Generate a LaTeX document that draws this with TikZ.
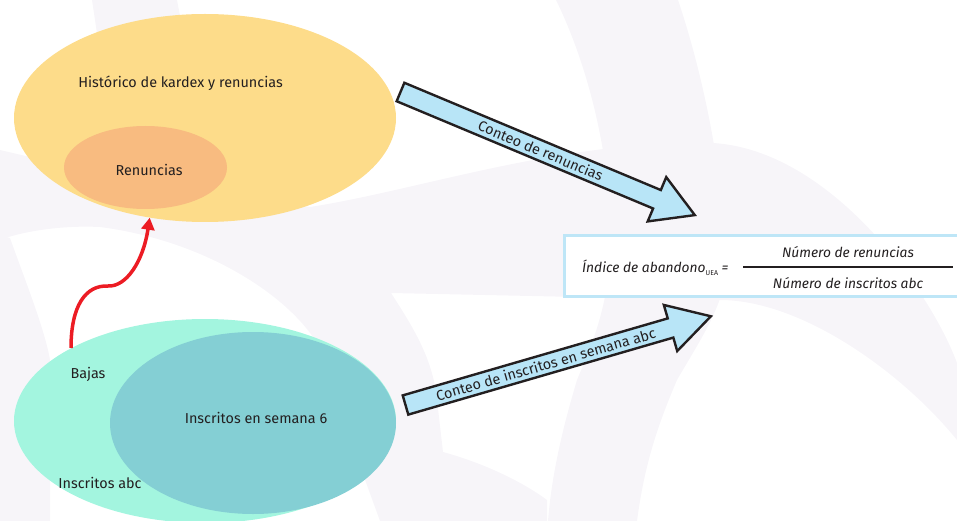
\documentclass[tikz,border=0pt]{standalone}
\usepackage{fontspec}
\setmainfont{Fira Sans}
\usetikzlibrary{arrows.meta,shapes.geometric}

\definecolor{histfill}{HTML}{FDDC8A}
\definecolor{renfill}{HTML}{F8BB80}
\definecolor{abcfill}{HTML}{A3F5DF}
\definecolor{semfill}{HTML}{84CFD4}
\definecolor{countfill}{HTML}{B8E5F7}
\definecolor{countline}{HTML}{231F20}
\definecolor{formline}{HTML}{BEE6F7}
\definecolor{wmark}{HTML}{F7F5F9}
\definecolor{bajasred}{HTML}{EC1C24}

\tikzset{
  set/.style={ellipse, inner sep=0pt, draw=none},
  settext/.style={font=\fontsize{14.4}{16}\selectfont, text=countline, inner sep=0pt},
  countarrow/.style={draw=countline, fill=countfill, line width=2.4pt, line join=miter},
  countlabel/.style={font=\fontsize{14.4}{16}\selectfont, text=countline, inner sep=0pt},
  formtext/.style={font=\itshape\fontsize{13.8}{15}\selectfont, text=countline, inner sep=0pt},
}

\begin{document}
\begin{tikzpicture}[x=1pt,y=-1pt]
\useasboundingbox (0,0) rectangle (957,521);
\clip (0,0) rectangle (957,521);
% watermark
\fill[wmark] (92,0) -- (177,0) -- (200,120) -- (110,120) -- cycle;
\fill[wmark] (556,0) .. controls (600,90) and (615,200) .. (610,262)
  .. controls (605,320) and (585,360) .. (577,380) .. controls (565,420) and (552,470) .. (548,521)
  -- (637,521) .. controls (645,460) and (660,420) .. (677,380)
  .. controls (700,340) and (728,300) .. (726,262) .. controls (724,180) and (705,80) .. (678,0) -- cycle;
\fill[wmark] (0,150) .. controls (150,185) .. (310,207)
  .. controls (420,190) and (560,140) .. (713,143) .. controls (830,150) and (930,290) .. (957,363)
  -- (957,440) .. controls (900,370) and (800,300) .. (720,300) -- (391,293)
  .. controls (415,330) and (433,360) .. (437,400) -- (443,452) .. controls (480,462) and (520,480) .. (547,500)
  -- (547,521) -- (380,521) -- (313,337) .. controls (280,290) and (200,240) .. (100,227)
  .. controls (60,225) and (20,232) .. (0,240) -- cycle;
\fill[wmark] (0,235) -- (10,238) .. controls (25,280) and (45,330) .. (50,360) -- (50,521) -- (0,521) -- cycle;

% sets
\node[set, fill=histfill, minimum width=382pt, minimum height=208pt] (hist) at (205,118) {};
\node[set, fill=renfill, minimum width=163pt, minimum height=83pt] (ren) at (145.5,167.5) {};
\node[set, fill=abcfill, minimum width=382pt, minimum height=204pt] (abc) at (205,421) {};
\node[set, fill=semfill, minimum width=286pt, minimum height=182pt] (sem) at (253,423) {};

\node[settext] (histtxt) at (180.5,83) {Histórico de kardex y renuncias};
\node[settext] (rentxt) at (149,170) {Renuncias};
\node[settext] (bajas) at (88,374) {Bajas};
\node[settext] (semtxt) at (256,418) {Inscritos en semana 6};
\node[settext] (abctxt) at (100,483) {Inscritos abc};

% bajas -> renuncias
\coordinate (bajastail) at (71,348);
\draw[bajasred, line width=3.5pt, -{Triangle[length=12pt,width=13pt]}]
  (bajastail) .. controls (71,305) and (86,285) .. (108,286)
  .. controls (126,287) and (143,262) .. (hist.241);

% formula
\node[draw=formline, line width=3pt, fill=white, minimum width=400pt, minimum height=61pt, anchor=north west] (formula) at (563,234) {};
\node[formtext, anchor=west] (idx) at (582,268) {Índice de abandono\raisebox{-0.4ex}{\normalfont\fontsize{7}{8}\selectfont UEA} =};
\coordinate (fracl) at (743,267);
\coordinate (fracr) at (953,267);
\draw[countline, line width=1.2pt] (fracl) -- (fracr);
\node[formtext] (num) at (848,252) {Número de renuncias};
\node[formtext] (den) at (848,283) {Número de inscritos abc};

% conteo arrows
\begin{scope}[shift={(400.5,92)}, rotate=-22.7]
  \draw[countarrow] (0,-10) -- (278,-10) -- (278,-24) -- (319,0) -- (278,24) -- (278,10) -- (0,10) -- cycle;
  \node[countlabel, rotate=-22.7] (countren) at (152,0) {Conteo de renuncias};
\end{scope}
\begin{scope}[shift={(405.5,405)}, rotate=16.2]
  \draw[countarrow] (0,-10) -- (276,-10) -- (276,-24) -- (318,0) -- (276,24) -- (276,10) -- (0,10) -- cycle;
  \node[countlabel, rotate=16.2] (countabc) at (146,0) {Conteo de inscritos en semana abc};
\end{scope}
\end{tikzpicture}
\end{document}
